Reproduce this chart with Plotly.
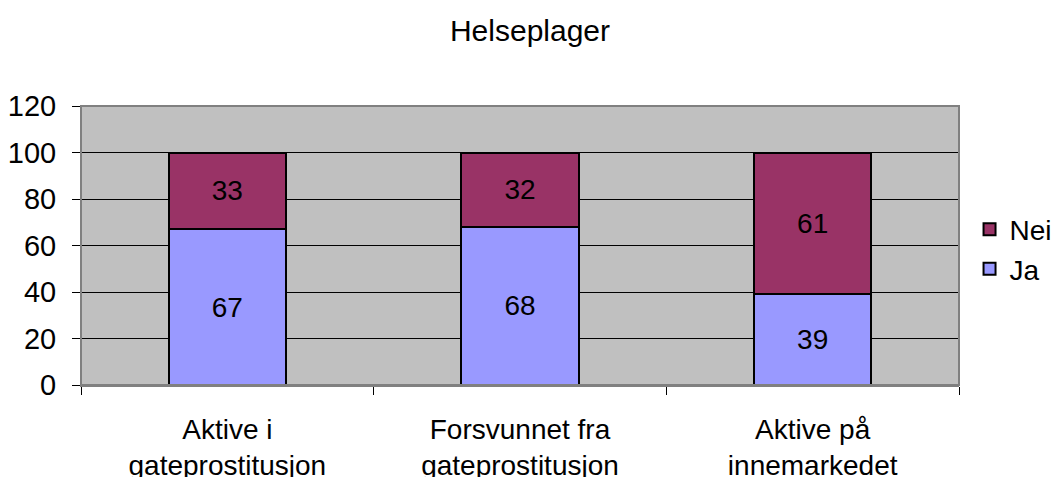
import plotly.graph_objects as go

categories = ["Aktive i<br>gateprostitusjon", "Forsvunnet fra<br>gateprostitusjon", "Aktive på<br>innemarkedet"]
ja_values = [67, 68, 39]
nei_values = [33, 32, 61]
y_ticks = [0, 20, 40, 60, 80, 100, 120]

FONT = "Liberation Sans, Arial, sans-serif"
# page body has an 8px default margin; size the figure so it fills the 1064x477 window
W, H = 1056, 469

fig = go.Figure()
fig.add_trace(go.Bar(
    x=categories, y=ja_values, name="Ja",
    marker=dict(color="#9999FF", line=dict(color="black", width=2)),
    text=ja_values, textposition="inside", insidetextanchor="middle",
    textfont=dict(size=28, color="black", family=FONT), textangle=0,
))
fig.add_trace(go.Bar(
    x=categories, y=nei_values, name="Nei",
    marker=dict(color="#993366", line=dict(color="black", width=2)),
    text=nei_values, textposition="inside", insidetextanchor="middle",
    textfont=dict(size=28, color="black", family=FONT), textangle=0,
))

fig.update_layout(
    barmode="stack",
    bargap=0.6,
    width=W, height=H,
    margin=dict(l=73, r=105, t=98, b=92, pad=0, autoexpand=False),
    paper_bgcolor="white",
    plot_bgcolor="#C0C0C0",
    font=dict(family=FONT, size=28, color="black"),
    title=dict(text="Helseplager", x=(530 - 8) / W, xanchor="center", y=1 - 22 / H, yanchor="middle",
               font=dict(size=30, color="black", family=FONT)),
    legend=dict(traceorder="reversed", x=1.012, xanchor="left", y=0.487, yanchor="middle",
                font=dict(size=28, family=FONT), bgcolor="rgba(0,0,0,0)",
                itemwidth=30, tracegroupgap=0),
    showlegend=True,
    uniformtext=dict(minsize=28, mode="show"),
)
fig.update_yaxes(
    range=[0, 120], tickvals=y_ticks, showgrid=True, gridcolor="black", gridwidth=1,
    ticks="outside", ticklen=8, tickcolor="black", tickwidth=1,
    showline=True, linecolor="black", linewidth=1, zeroline=False, automargin=False,
    tickfont=dict(size=29, family=FONT), ticklabelstandoff=10,
)
fig.update_xaxes(
    type="category", tickson="boundaries", ticks="outside", ticklen=8, tickcolor="black", tickwidth=1,
    showline=True, linecolor="#808080", linewidth=2, showgrid=False, automargin=False,
    tickfont=dict(size=28, family=FONT), ticklabelstandoff=18,
)
# plot-area border
fig.add_shape(type="rect", xref="paper", yref="paper", x0=0, x1=1, y0=0, y1=1,
              line=dict(color="#808080", width=2), fillcolor="rgba(0,0,0,0)", layer="above")

fig.write_html("out.html")
